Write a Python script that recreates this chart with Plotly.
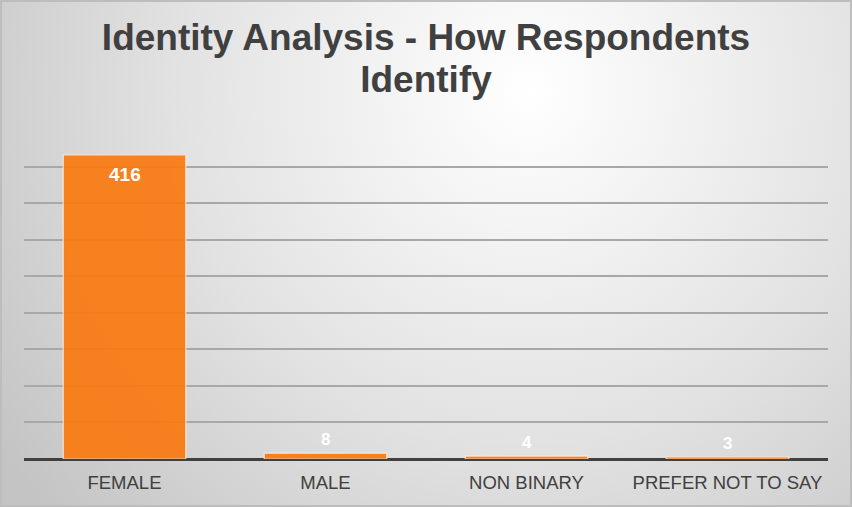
import base64
import plotly.graph_objects as go

categories = ["FEMALE", "MALE", "NON BINARY", "PREFER NOT TO SAY"]
counts = [416, 8, 4, 3]
grid_values = [50, 100, 150, 200, 250, 300, 350, 400]
title_lines = ["Identity Analysis - How Respondents", "Identify"]

W, H = 852, 507
ML, MR, MT, MB = 24, 24, 130, 48
PW, PH = W - ML - MR, H - MT - MB

svg = f'''<svg xmlns="http://www.w3.org/2000/svg" width="{W}" height="{H}" viewBox="0 0 {W} {H}" preserveAspectRatio="none">
<defs><radialGradient id="g" cx="{0.62*W}" cy="{0.18*H}" r="{0.75*W}" gradientUnits="userSpaceOnUse">
<stop offset="0" stop-color="#ffffff"/><stop offset="0.55" stop-color="#e2e2e2"/><stop offset="1" stop-color="#c4c4c4"/>
</radialGradient></defs>
<rect x="0" y="0" width="{W}" height="{H}" fill="url(#g)"/>
<rect x="1" y="1" width="{W-2}" height="{H-2}" fill="none" stroke="#bdbdbd" stroke-width="2"/>
</svg>'''
src = "data:image/svg+xml;base64," + base64.b64encode(svg.encode()).decode()

fig = go.Figure()
fig.add_trace(go.Bar(
    x=categories, y=counts,
    marker=dict(color="rgb(250,121,16)", opacity=0.92,
                line=dict(color="rgba(255,235,220,0.9)", width=1.2)),
    hoverinfo="x+y",
))

annotations = []
for i, (c, v) in enumerate(zip(categories, counts)):
    if i == 0:
        annotations.append(dict(x=c, y=v, xref="x", yref="y", text=f"<b>{v}</b>",
                                showarrow=False, yanchor="middle", yshift=-20,
                                font=dict(family="Liberation Sans, Arial", size=19, color="#ffffff")))
    else:
        annotations.append(dict(x=c, y=v, xref="x", yref="y", text=f"<b>{v}</b>",
                                showarrow=False, yanchor="bottom", yshift=2,
                                font=dict(family="Liberation Sans, Arial", size=17, color="#ffffff")))

title_html = "<br>".join(f"<b><span style='font-size:37px'>{t}</span></b>" for t in title_lines)

fig.update_layout(
    width=W, height=H,
    margin=dict(l=ML, r=MR, t=MT, b=MB, pad=0),
    paper_bgcolor="rgba(0,0,0,0)", plot_bgcolor="rgba(0,0,0,0)",
    bargap=0.39,
    showlegend=False,
    title=dict(text=title_html, x=0.5, xanchor="center",
               y=1 - 50 / H, yanchor="top", yref="container",
               font=dict(family="Liberation Sans, Arial", size=32.3, color="#404040")),
    images=[dict(source=src, xref="paper", yref="paper",
                 x=-ML / PW, y=1 + MT / PH, sizex=W / PW, sizey=H / PH,
                 xanchor="left", yanchor="top", sizing="stretch", layer="below")],
    annotations=annotations,
)
fig.update_xaxes(showline=False, showgrid=False, ticks="", ticklabelstandoff=10,
                 tickfont=dict(family="Liberation Sans, Arial", size=18.5, color="#404040"))
fig.update_yaxes(range=[0, 450], tickvals=grid_values, showticklabels=False,
                 showgrid=True, gridcolor="#a8a8a8", gridwidth=1.5,
                 zeroline=True, zerolinecolor="#404040", zerolinewidth=3,
                 showline=False, ticks="")

fig.write_html("out.html")
